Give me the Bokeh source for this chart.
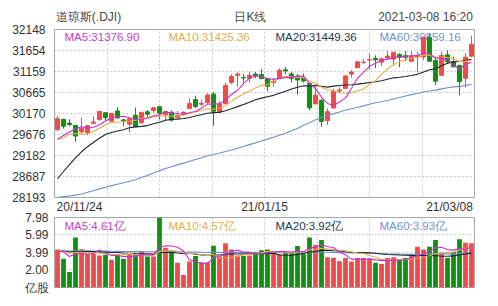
from bokeh.plotting import figure
from bokeh.models import (Range1d, FixedTicker, Label, ColumnDataSource, PrintfTickFormatter,
                          LinearAxis)
from bokeh.layouts import column
from bokeh.embed import file_html
from bokeh.resources import INLINE

# ---------------- data ----------------
dates = ["20/11/24", "20/11/25", "20/11/27", "20/11/30",
         "20/12/01", "20/12/02", "20/12/03", "20/12/04", "20/12/07", "20/12/08", "20/12/09", "20/12/10",
         "20/12/11", "20/12/14", "20/12/15", "20/12/16", "20/12/17", "20/12/18", "20/12/21", "20/12/22",
         "20/12/23", "20/12/24", "20/12/28", "20/12/29", "20/12/30", "20/12/31",
         "21/01/04", "21/01/05", "21/01/06", "21/01/07", "21/01/08", "21/01/11", "21/01/12", "21/01/13",
         "21/01/14", "21/01/15", "21/01/19", "21/01/20", "21/01/21", "21/01/22", "21/01/25", "21/01/26",
         "21/01/27", "21/01/28", "21/01/29",
         "21/02/01", "21/02/02", "21/02/03", "21/02/04", "21/02/05", "21/02/08", "21/02/09", "21/02/10",
         "21/02/11", "21/02/12", "21/02/16", "21/02/17", "21/02/18", "21/02/19", "21/02/22", "21/02/23",
         "21/02/24", "21/02/25", "21/02/26",
         "21/03/01", "21/03/02", "21/03/03", "21/03/04", "21/03/05", "21/03/08"]

opens = [29790, 30030, 29945, 29890, 29740, 29720, 29940, 30030, 30190, 29990,
         30230, 30020, 29920, 30130, 29950, 30210, 30240, 30330, 30150, 30200,
         30070, 30170, 30290, 30500, 30390, 30430, 30627, 30200, 30400, 30900,
         31070, 31015, 31000, 31100, 31090, 30990, 30900, 30990, 31200, 31100,
         31050, 31010, 30880, 30400, 30480, 30000, 30300, 30700, 30760, 31100,
         31250, 31370, 31430, 31470, 31380, 31480, 31450, 31560, 31530, 31400,
         31500, 31500, 31960, 31420, 31070, 31550, 31390, 31300, 31000, 31520]
highs = [30116, 30050, 30031, 29890, 30070, 29900, 30100, 30220, 30190, 30180,
         30320, 30050, 30060, 30310, 30200, 30250, 30320, 30340, 30230, 30240,
         30230, 30220, 30525, 30590, 30500, 30640, 30674, 30460, 30900, 31100,
         31140, 31100, 31150, 31150, 31220, 31000, 31010, 31230, 31270, 31150,
         31100, 31110, 30900, 30800, 30520, 30290, 30750, 30790, 31060, 31190,
         31410, 31450, 31580, 31540, 31470, 31640, 31620, 31590, 31640, 31640,
         31630, 31980, 32050, 31500, 31630, 31660, 31510, 31320, 31590, 32000]
lows = [29760, 29815, 29873, 29500, 29700, 29660, 29920, 30000, 30000, 29960,
        30040, 29880, 29730, 29850, 29950, 30080, 30180, 30030, 30000, 29980,
        30070, 30140, 30280, 30300, 30340, 30400, 29881, 30190, 30400, 30860,
        30800, 30900, 30900, 31000, 30980, 30700, 30800, 30990, 31100, 30900,
        30610, 30900, 30250, 30380, 29856, 29900, 30300, 30650, 30760, 31020,
        31240, 31330, 31200, 31240, 31290, 31440, 31300, 31260, 31410, 31400,
        31130, 31430, 31380, 30840, 31070, 31340, 31260, 30600, 30780, 31500]
closes = [30046, 29872, 29910, 29639, 29824, 29884, 29970, 30218, 30070, 30174,
          30069, 29999, 30046, 29862, 30200, 30155, 30303, 30179, 30216, 30016,
          30130, 30199, 30404, 30336, 30410, 30606, 30224, 30392, 30829, 31041,
          31098, 31009, 31069, 31060, 30992, 30814, 30931, 31188, 31176, 30997,
          30960, 30937, 30303, 30603, 29983, 30212, 30687, 30724, 31056, 31148,
          31386, 31376, 31438, 31431, 31458, 31523, 31613, 31493, 31494, 31522,
          31537, 31962, 31402, 30932, 31536, 31392, 31270, 30924, 31496, 31802]

ma5 = [29564, 29651, 29736, 29812, 29858, 29826, 29845, 29907, 29993, 30063,
       30100, 30106, 30072, 30030, 30035, 30052, 30113, 30140, 30211, 30174,
       30169, 30148, 30193, 30217, 30296, 30391, 30396, 30394, 30492, 30618,
       30717, 30874, 31009, 31055, 31046, 30989, 30973, 30997, 31020, 31021,
       31050, 31052, 30875, 30760, 30557, 30408, 30358, 30442, 30532, 30765,
       31000, 31138, 31281, 31356, 31418, 31445, 31493, 31504, 31516, 31529,
       31532, 31602, 31583, 31471, 31474, 31445, 31306, 31211, 31324, 31377]
ma10 = [29551, 29599, 29682, 29698, 29685, 29695, 29748, 29822, 29902, 29961,
        29963, 29976, 29989, 30012, 30049, 30076, 30110, 30106, 30120, 30105,
        30111, 30131, 30166, 30214, 30235, 30280, 30272, 30293, 30355, 30457,
        30554, 30635, 30701, 30774, 30832, 30853, 30924, 31003, 31038, 31033,
        31020, 31012, 30936, 30890, 30789, 30729, 30705, 30658, 30646, 30661,
        30704, 30748, 30861, 30944, 31092, 31223, 31315, 31392, 31436, 31473,
        31489, 31547, 31544, 31494, 31501, 31488, 31454, 31397, 31397, 31425]
ma20 = [28637, 28805, 28967, 29124, 29269, 29389, 29495, 29587, 29674, 29725,
        29757, 29787, 29835, 29855, 29867, 29886, 29929, 29964, 30011, 30033,
        30037, 30053, 30078, 30113, 30142, 30178, 30191, 30200, 30237, 30281,
        30332, 30383, 30434, 30494, 30533, 30566, 30598, 30648, 30696, 30745,
        30787, 30824, 30819, 30832, 30811, 30791, 30814, 30831, 30842, 30847,
        30862, 30880, 30899, 30917, 30940, 30976, 31010, 31025, 31041, 31067,
        31096, 31147, 31202, 31219, 31297, 31356, 31385, 31395, 31417, 31449]
ma60 = [28193, 28213, 28227, 28249, 28277, 28317, 28351, 28396, 28436, 28472,
        28507, 28539, 28575, 28612, 28663, 28711, 28770, 28826, 28876, 28917,
        28961, 29002, 29045, 29089, 29127, 29174, 29206, 29239, 29276, 29313,
        29353, 29395, 29438, 29479, 29525, 29567, 29612, 29659, 29707, 29762,
        29820, 29894, 29955, 30023, 30074, 30119, 30167, 30206, 30251, 30284,
        30317, 30350, 30389, 30422, 30447, 30476, 30512, 30546, 30583, 30615,
        30640, 30675, 30700, 30721, 30750, 30775, 30797, 30808, 30832, 30859]

volume = [4.33, 3.27, 1.78, 5.69, 4.37, 3.86, 3.86, 3.66, 3.74, 3.16,
          3.78, 3.27, 3.78, 3.74, 4.17, 3.54, 3.54, 7.98, 4.52, 4.05,
          2.81, 1.43, 2.96, 3.58, 2.88, 2.88, 4.75, 3.54, 5.04, 4.33,
          3.66, 3.58, 3.66, 4.05, 4.25, 4.33, 4.05, 3.78, 4.05, 4.05,
          4.72, 3.86, 5.69, 4.84, 5.42, 3.46, 3.39, 2.99, 3.35, 2.96,
          3.35, 3.35, 3.27, 2.81, 2.69, 3.35, 3.46, 3.16, 3.35, 3.66,
          4.64, 4.33, 4.64, 5.42, 3.86, 3.35, 4.05, 5.50, 5.11, 5.04]
vol_ma5 = [4.19, 4.04, 3.54, 3.83, 3.89, 3.79, 3.91, 4.29, 3.90, 3.66,
           3.64, 3.52, 3.55, 3.55, 3.75, 3.70, 3.75, 4.59, 4.75, 4.73,
           4.58, 4.16, 3.15, 2.97, 2.73, 2.75, 3.41, 3.53, 3.82, 4.11,
           4.26, 4.03, 4.05, 3.86, 3.84, 3.97, 4.07, 4.09, 4.09, 4.05,
           4.13, 4.09, 4.47, 4.63, 4.91, 4.65, 4.56, 4.02, 3.72, 3.23,
           3.21, 3.20, 3.26, 3.15, 3.09, 3.09, 3.12, 3.09, 3.20, 3.40,
           3.65, 3.83, 4.12, 4.54, 4.58, 4.32, 4.26, 4.44, 4.37, 4.61]
vol_ma10 = [4.26, 4.14, 3.90, 4.01, 4.00, 3.99, 3.98, 3.91, 3.87, 3.77,
            3.72, 3.72, 3.92, 3.72, 3.70, 3.67, 3.64, 4.07, 4.15, 4.24,
            4.14, 3.96, 3.87, 3.86, 3.73, 3.66, 3.78, 3.34, 3.39, 3.42,
            3.51, 3.72, 3.79, 3.84, 3.97, 4.12, 4.05, 4.07, 3.97, 3.95,
            4.05, 4.08, 4.28, 4.36, 4.48, 4.39, 4.33, 4.25, 4.18, 4.07,
            3.93, 3.88, 3.64, 3.44, 3.16, 3.15, 3.16, 3.18, 3.18, 3.25,
            3.37, 3.47, 3.61, 3.87, 3.99, 3.99, 4.05, 4.28, 4.46, 4.57]
vol_ma20 = [4.23, 4.17, 4.05, 4.10, 4.10, 4.10, 4.09, 4.06, 4.03, 3.99,
            3.99, 3.93, 3.91, 3.86, 3.85, 3.83, 3.81, 3.99, 4.01, 4.00,
            3.93, 3.84, 3.90, 3.79, 3.72, 3.67, 3.71, 3.71, 3.77, 3.83,
            3.82, 3.84, 3.83, 3.85, 3.85, 3.89, 3.92, 3.71, 3.68, 3.68,
            3.78, 3.90, 4.04, 4.10, 4.23, 4.26, 4.19, 4.16, 4.08, 4.01,
            3.99, 3.98, 3.96, 3.90, 3.82, 3.77, 3.74, 3.71, 3.68, 3.66,
            3.65, 3.68, 3.62, 3.65, 3.57, 3.57, 3.60, 3.73, 3.82, 3.92]
vol_ma60 = [4.20, 4.19, 4.15, 4.17, 4.17, 4.17, 4.16, 4.15, 4.15, 4.13,
            4.12, 4.11, 4.10, 4.09, 4.09, 4.08, 4.07, 4.13, 4.14, 4.13,
            4.11, 4.07, 4.04, 4.03, 4.01, 3.99, 4.00, 3.99, 4.00, 4.00,
            4.00, 3.99, 3.98, 3.97, 3.97, 3.98, 3.97, 3.97, 3.97, 3.96,
            3.97, 3.97, 3.99, 4.00, 4.02, 4.01, 4.00, 3.98, 3.96, 3.94,
            3.93, 3.91, 3.90, 3.87, 3.85, 3.83, 3.82, 3.80, 3.79, 3.78,
            3.79, 3.80, 3.85, 3.85, 3.84, 3.83, 3.83, 3.86, 3.89, 3.93]

price_ticks = [28193, 28687, 29182, 29676, 30170, 30665, 31159, 31654, 32148]
vol_ticks = [0, 2.00, 3.99, 5.99, 7.98]
price_legend = ["MA5:31376.90", "MA10:31425.36", "MA20:31449.36", "MA60:30859.16"]
vol_legend = ["MA5:4.61亿", "MA10:4.57亿", "MA20:3.92亿", "MA60:3.93亿"]
header_texts = ["道琼斯(.DJI)", "日K线", "2021-03-08 16:20"]
vol_unit = "亿股"

# ---------------- styles / layout ----------------
RED = "#f04a4a"
GREEN = "#138f13"
MA_COLORS = ["#cc33cc", "#e6ae48", "#1c2633", "#6f8fcc"]
LEGEND_COLORS = ["#c23fc2", "#e0ad4e", "#26364d", "#7590cc"]
FONT = "Liberation Sans"

W, L, R = 498, 54, 24
FW = W - L - R                   # 420
FH1, P1_T, P1_B = 168, 29, 24    # price frame rows 29..197, figure rows 0..221
FH2, P2_T, P2_B = 70, 10, 19     # volume frame rows 217..287
OVERLAP = 14                     # volume figure pulled up over the blank bottom border
P2_TOP = P1_T + FH1 + P1_B - OVERLAP + P2_T

n = len(closes)
xs = list(range(n))
X0, X1 = -0.5, n - 0.5
PMIN, PMAX = min(price_ticks), max(price_ticks)
VMAX = max(vol_ticks)


def fx(px):
    return X0 + (px - L) / FW * (X1 - X0)


def fy1(py):
    return PMAX - (py - P1_T) / FH1 * (PMAX - PMIN)


def fy2(py):
    return VMAX - (py - P2_TOP) / FH2 * VMAX


vgrid = [X0 + (X1 - X0) * k / 8 for k in range(1, 8)]
xr = Range1d(X0, X1)


def style(p, ticks, fmt, standoff):
    p.outline_line_color = "#a8a8a8"
    p.outline_line_width = 1
    p.background_fill_color = "white"
    p.border_fill_color = "white"
    ax = p.yaxis[0]
    ax.ticker = FixedTicker(ticks=ticks)
    ax.formatter = PrintfTickFormatter(format=fmt)
    ax.axis_line_color = None
    ax.major_tick_line_color = None
    ax.minor_tick_line_color = None
    ax.major_tick_out = 0
    ax.minor_tick_out = 0
    ax.major_label_standoff = standoff
    ax.major_label_text_font = FONT
    ax.major_label_text_font_size = "12px"
    ax.major_label_text_color = "#333333"
    p.xgrid.ticker = FixedTicker(ticks=vgrid)
    p.ygrid.ticker = FixedTicker(ticks=ticks)
    for g in (p.xgrid, p.ygrid):
        g.grid_line_color = "#c8c8c8"
        g.grid_line_dash = "2 2"
        g.grid_line_width = 1


def text_axis(p, place, centers, texts, standoff, color):
    # an axis on a pixel-like range that only carries text labels
    ax = LinearAxis(x_range_name="px", ticker=FixedTicker(ticks=centers),
                    major_label_overrides=dict(zip(centers, texts)))
    ax.axis_line_color = None
    ax.major_tick_line_color = None
    ax.minor_tick_line_color = None
    ax.major_tick_out = 0
    ax.minor_tick_out = 0
    ax.major_tick_in = 0
    ax.minor_tick_in = 0
    ax.major_label_standoff = standoff
    ax.major_label_text_font = FONT
    ax.major_label_text_font_size = "12px"
    ax.major_label_text_color = color
    p.add_layout(ax, place)


# ---------------- price panel ----------------
p1 = figure(frame_width=FW, frame_height=FH1, x_range=xr, y_range=Range1d(PMIN, PMAX),
            x_axis_location=None, output_backend="svg", toolbar_location=None,
            min_border_left=L, min_border_right=R, min_border_top=P1_T, min_border_bottom=P1_B)
p1.extra_x_ranges = {"px": Range1d(L, W - R)}
style(p1, price_ticks, "%d", 9)

# header row (text centres in page pixels) and date row
text_axis(p1, "above", [88, 250, 425], header_texts, 6, "#484848")
text_axis(p1, "below", [79, 264, 449], [dates[0], dates[n // 2], dates[-1]], 2, "#333333")

legend_px = [64, 168, 275, 379]
for txt, col, px in zip(price_legend, LEGEND_COLORS, legend_px):
    p1.add_layout(Label(x=fx(px), y=fy1(36), text=txt, text_font=FONT, text_font_size="11.5px",
                        text_color=col, text_baseline="middle", text_align="left",
                        level="underlay"))

colors = [RED if c >= o else GREEN for o, c in zip(opens, closes)]
src = ColumnDataSource(dict(
    x=xs, high=highs, low=lows,
    top=[max(o, c) for o, c in zip(opens, closes)],
    bottom=[min(o, c) for o, c in zip(opens, closes)],
    color=colors))
p1.segment(x0="x", y0="low", x1="x", y1="high", line_color="color", line_width=1, source=src)
p1.vbar(x="x", width=0.68, top="top", bottom="bottom", fill_color="color",
        line_color="color", line_width=1, source=src)

for series, col in zip([ma60, ma20, ma10, ma5], MA_COLORS[::-1]):
    p1.line(xs, series, line_color=col, line_width=1.1)

# ---------------- volume panel ----------------
p2 = figure(frame_width=FW, frame_height=FH2, x_range=xr, y_range=Range1d(0, VMAX),
            x_axis_location=None, output_backend="svg", toolbar_location=None,
            min_border_left=L, min_border_right=R, min_border_top=P2_T, min_border_bottom=P2_B,
            styles={"margin-top": f"-{OVERLAP}px"})
style(p2, vol_ticks, "%.2f", 6)
p2.border_fill_color = None      # transparent border so the date row above stays visible
p2.yaxis[0].major_label_overrides = {0: vol_unit}

vsrc = ColumnDataSource(dict(x=xs, v=volume, color=colors))
p2.vbar(x="x", width=0.8, top="v", bottom=0, fill_color="color", line_color=None, source=vsrc)
for series, col in zip([vol_ma60, vol_ma20, vol_ma10, vol_ma5], MA_COLORS[::-1]):
    p2.line(xs, series, line_color=col, line_width=1.1)

for txt, col, px in zip(vol_legend, LEGEND_COLORS, legend_px):
    p2.add_layout(Label(x=fx(px), y=fy2(225), text=txt, text_font=FONT, text_font_size="11.5px",
                        text_color=col, text_baseline="middle", text_align="left"))

layout = column(p1, p2, spacing=0)
open("out.html", "w").write(file_html(layout, INLINE))
